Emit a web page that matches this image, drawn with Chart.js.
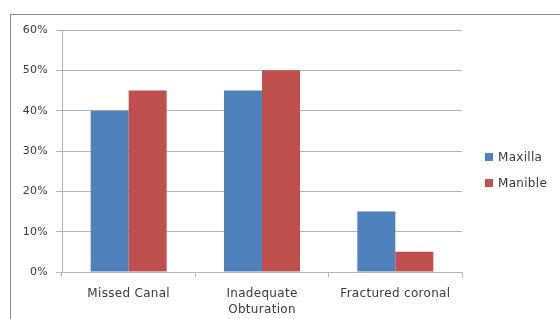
<!DOCTYPE html>
<html>
<head>
<meta charset="utf-8">
<script src="https://cdn.jsdelivr.net/npm/chart.js@4"></script>
<style>
  html, body { margin: 0; padding: 0; background: #fff; }
  #wrap { position: relative; width: 560px; height: 319px; overflow: hidden; }
  #frame { position: absolute; left: 10px; top: 14px; width: 600px; height: 400px; border: 1px solid #8c8c8c; }
  canvas { position: absolute; left: 0; top: 0; }
</style>
</head>
<body>
<div id="wrap">
  <div id="frame"></div>
  <canvas id="chart" width="560" height="319"></canvas>
</div>
<script>
// categorias e séries
const categorias = ["Missed Canal", ["Inadequate", "Obturation"], "Fractured coronal"];
const maxilla = [40, 45, 15];
const manible = [45, 50, 5];
const ticksY = [0, 10, 20, 30, 40, 50, 60];

const CORES = { azul: "#4F81BD", vermelho: "#C0504D", grade: "#b4b4b4", texto: "#3a3a3a" };

Chart.defaults.font.family = '"DejaVu Sans", sans-serif';
Chart.defaults.font.size = 12;
Chart.defaults.color = CORES.texto;

// espaçamento de letras um pouco maior, como no original
const espacamento = {
  id: "espacamento",
  beforeInit(chart) { chart.ctx.letterSpacing = "0.3px"; },
  beforeDraw(chart) { chart.ctx.letterSpacing = "0.3px"; },
};

// legenda desenhada à mão, à direita
const legendaDireita = {
  id: "legendaDireita",
  afterDraw(chart) {
    const ctx = chart.ctx;
    ctx.save();
    ctx.font = '12px "DejaVu Sans", sans-serif';
    ctx.textBaseline = "middle";
    chart.data.datasets.forEach((ds, i) => {
      const y = 157 + i * 26;
      ctx.fillStyle = ds.backgroundColor;
      ctx.fillRect(485, y - 4, 8, 8);
      ctx.fillStyle = CORES.texto;
      ctx.fillText(ds.label, 498, y + 1);
    });
    ctx.restore();
  },
};

new Chart(document.getElementById("chart"), {
  type: "bar",
  data: {
    labels: categorias,
    datasets: [
      { label: "Maxilla", data: maxilla, backgroundColor: CORES.azul },
      { label: "Manible", data: manible, backgroundColor: CORES.vermelho },
    ],
  },
  options: {
    responsive: false, animation: false,
    layout: { padding: { left: 0, top: 30, right: 98, bottom: 0 } },
    plugins: { legend: { display: false }, tooltip: { enabled: false } },
    datasets: { bar: { categoryPercentage: 0.57, barPercentage: 1 } },
    scales: {
      x: {
        grid: { offset: true, drawOnChartArea: false, color: CORES.grade, tickLength: 5 },
        border: { color: CORES.grade },
        ticks: { padding: 8, maxRotation: 0, autoSkip: false, font: { lineHeight: 1.4 } },
        afterFit(s) { s.height = 47; },
      },
      y: {
        min: 0, max: 60,
        afterBuildTicks(s) { s.ticks = ticksY.map((v) => ({ value: v })); },
        grid: { color: CORES.grade, tickLength: 6 },
        border: { color: CORES.grade },
        ticks: { padding: 8, font: { size: 11 }, callback: (v) => v + "%" },
        afterFit(s) { s.width = 62; },
      },
    },
  },
  plugins: [espacamento, legendaDireita],
});
</script>
</body>
</html>
